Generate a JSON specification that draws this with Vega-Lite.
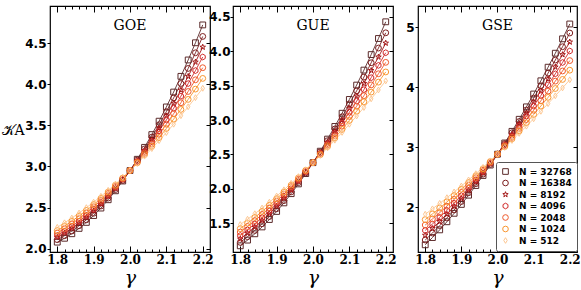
{
"$schema": "https://vega.github.io/schema/vega-lite/v6.json",
"padding": {"left": 0, "top": 4, "right": 5, "bottom": 0},
"spacing": -6,
"config": {
  "view": {"stroke": "black", "strokeWidth": 1.2},
  "axis": {"grid": false, "domain": false, "tickColor": "black", "labelColor": "black", "tickWidth": 1},
  "legend": {"orient": "none", "legendX": 446, "legendY": 156, "strokeColor": "#555", "fillColor": "white", "padding": 5, "cornerRadius": 2, "labelFont": "DejaVu Sans", "labelFontWeight": "bold", "labelFontSize": 9, "labelColor": "black", "symbolSize": 32, "symbolStrokeWidth": 1, "rowPadding": 0.5, "labelOffset": 9}
},
"datasets": {
"goe": [
{"N":32768,"g":1.8,"k":2.08},{"N":32768,"g":1.82,"k":2.127},{"N":32768,"g":1.84,"k":2.182},{"N":32768,"g":1.86,"k":2.247},{"N":32768,"g":1.88,"k":2.32},{"N":32768,"g":1.9,"k":2.403},{"N":32768,"g":1.92,"k":2.494},{"N":32768,"g":1.94,"k":2.595},{"N":32768,"g":1.96,"k":2.704},{"N":32768,"g":1.98,"k":2.823},{"N":32768,"g":2.0,"k":2.95},{"N":32768,"g":2.02,"k":3.087},{"N":32768,"g":2.04,"k":3.232},{"N":32768,"g":2.06,"k":3.387},{"N":32768,"g":2.08,"k":3.55},{"N":32768,"g":2.1,"k":3.723},{"N":32768,"g":2.12,"k":3.904},{"N":32768,"g":2.14,"k":4.095},{"N":32768,"g":2.16,"k":4.294},{"N":32768,"g":2.18,"k":4.503},{"N":32768,"g":2.2,"k":4.72},
{"N":16384,"g":1.8,"k":2.11},{"N":16384,"g":1.82,"k":2.158},{"N":16384,"g":1.84,"k":2.215},{"N":16384,"g":1.86,"k":2.279},{"N":16384,"g":1.88,"k":2.351},{"N":16384,"g":1.9,"k":2.431},{"N":16384,"g":1.92,"k":2.519},{"N":16384,"g":1.94,"k":2.615},{"N":16384,"g":1.96,"k":2.719},{"N":16384,"g":1.98,"k":2.83},{"N":16384,"g":2.0,"k":2.95},{"N":16384,"g":2.02,"k":3.077},{"N":16384,"g":2.04,"k":3.213},{"N":16384,"g":2.06,"k":3.356},{"N":16384,"g":2.08,"k":3.507},{"N":16384,"g":2.1,"k":3.666},{"N":16384,"g":2.12,"k":3.833},{"N":16384,"g":2.14,"k":4.008},{"N":16384,"g":2.16,"k":4.191},{"N":16384,"g":2.18,"k":4.381},{"N":16384,"g":2.2,"k":4.58},
{"N":8192,"g":1.8,"k":2.14},{"N":8192,"g":1.82,"k":2.19},{"N":8192,"g":1.84,"k":2.247},{"N":8192,"g":1.86,"k":2.311},{"N":8192,"g":1.88,"k":2.381},{"N":8192,"g":1.9,"k":2.459},{"N":8192,"g":1.92,"k":2.543},{"N":8192,"g":1.94,"k":2.635},{"N":8192,"g":1.96,"k":2.733},{"N":8192,"g":1.98,"k":2.838},{"N":8192,"g":2.0,"k":2.95},{"N":8192,"g":2.02,"k":3.069},{"N":8192,"g":2.04,"k":3.195},{"N":8192,"g":2.06,"k":3.328},{"N":8192,"g":2.08,"k":3.467},{"N":8192,"g":2.1,"k":3.614},{"N":8192,"g":2.12,"k":3.767},{"N":8192,"g":2.14,"k":3.928},{"N":8192,"g":2.16,"k":4.095},{"N":8192,"g":2.18,"k":4.269},{"N":8192,"g":2.2,"k":4.45},
{"N":4096,"g":1.8,"k":2.16},{"N":4096,"g":1.82,"k":2.212},{"N":4096,"g":1.84,"k":2.271},{"N":4096,"g":1.86,"k":2.335},{"N":4096,"g":1.88,"k":2.405},{"N":4096,"g":1.9,"k":2.481},{"N":4096,"g":1.92,"k":2.563},{"N":4096,"g":1.94,"k":2.651},{"N":4096,"g":1.96,"k":2.745},{"N":4096,"g":1.98,"k":2.844},{"N":4096,"g":2.0,"k":2.95},{"N":4096,"g":2.02,"k":3.061},{"N":4096,"g":2.04,"k":3.179},{"N":4096,"g":2.06,"k":3.302},{"N":4096,"g":2.08,"k":3.431},{"N":4096,"g":2.1,"k":3.566},{"N":4096,"g":2.12,"k":3.707},{"N":4096,"g":2.14,"k":3.854},{"N":4096,"g":2.16,"k":4.007},{"N":4096,"g":2.18,"k":4.165},{"N":4096,"g":2.2,"k":4.33},
{"N":2048,"g":1.8,"k":2.19},{"N":2048,"g":1.82,"k":2.244},{"N":2048,"g":1.84,"k":2.303},{"N":2048,"g":1.86,"k":2.367},{"N":2048,"g":1.88,"k":2.435},{"N":2048,"g":1.9,"k":2.509},{"N":2048,"g":1.92,"k":2.587},{"N":2048,"g":1.94,"k":2.671},{"N":2048,"g":1.96,"k":2.759},{"N":2048,"g":1.98,"k":2.852},{"N":2048,"g":2.0,"k":2.95},{"N":2048,"g":2.02,"k":3.053},{"N":2048,"g":2.04,"k":3.161},{"N":2048,"g":2.06,"k":3.274},{"N":2048,"g":2.08,"k":3.391},{"N":2048,"g":2.1,"k":3.514},{"N":2048,"g":2.12,"k":3.641},{"N":2048,"g":2.14,"k":3.774},{"N":2048,"g":2.16,"k":3.911},{"N":2048,"g":2.18,"k":4.053},{"N":2048,"g":2.2,"k":4.2},
{"N":1024,"g":1.8,"k":2.22},{"N":1024,"g":1.82,"k":2.275},{"N":1024,"g":1.84,"k":2.335},{"N":1024,"g":1.86,"k":2.398},{"N":1024,"g":1.88,"k":2.465},{"N":1024,"g":1.9,"k":2.536},{"N":1024,"g":1.92,"k":2.611},{"N":1024,"g":1.94,"k":2.69},{"N":1024,"g":1.96,"k":2.773},{"N":1024,"g":1.98,"k":2.859},{"N":1024,"g":2.0,"k":2.95},{"N":1024,"g":2.02,"k":3.044},{"N":1024,"g":2.04,"k":3.143},{"N":1024,"g":2.06,"k":3.245},{"N":1024,"g":2.08,"k":3.351},{"N":1024,"g":2.1,"k":3.461},{"N":1024,"g":2.12,"k":3.575},{"N":1024,"g":2.14,"k":3.693},{"N":1024,"g":2.16,"k":3.815},{"N":1024,"g":2.18,"k":3.94},{"N":1024,"g":2.2,"k":4.07},
{"N":512,"g":1.8,"k":2.26},{"N":512,"g":1.82,"k":2.315},{"N":512,"g":1.84,"k":2.373},{"N":512,"g":1.86,"k":2.434},{"N":512,"g":1.88,"k":2.499},{"N":512,"g":1.9,"k":2.566},{"N":512,"g":1.92,"k":2.637},{"N":512,"g":1.94,"k":2.71},{"N":512,"g":1.96,"k":2.787},{"N":512,"g":1.98,"k":2.867},{"N":512,"g":2.0,"k":2.95},{"N":512,"g":2.02,"k":3.036},{"N":512,"g":2.04,"k":3.125},{"N":512,"g":2.06,"k":3.217},{"N":512,"g":2.08,"k":3.313},{"N":512,"g":2.1,"k":3.411},{"N":512,"g":2.12,"k":3.513},{"N":512,"g":2.14,"k":3.617},{"N":512,"g":2.16,"k":3.725},{"N":512,"g":2.18,"k":3.836},{"N":512,"g":2.2,"k":3.95}
],
"gue": [
{"N":32768,"g":1.8,"k":1.17},{"N":32768,"g":1.82,"k":1.253},{"N":32768,"g":1.84,"k":1.345},{"N":32768,"g":1.86,"k":1.445},{"N":32768,"g":1.88,"k":1.553},{"N":32768,"g":1.9,"k":1.67},{"N":32768,"g":1.92,"k":1.795},{"N":32768,"g":1.94,"k":1.929},{"N":32768,"g":1.96,"k":2.071},{"N":32768,"g":1.98,"k":2.221},{"N":32768,"g":2.0,"k":2.38},{"N":32768,"g":2.02,"k":2.547},{"N":32768,"g":2.04,"k":2.723},{"N":32768,"g":2.06,"k":2.907},{"N":32768,"g":2.08,"k":3.099},{"N":32768,"g":2.1,"k":3.3},{"N":32768,"g":2.12,"k":3.509},{"N":32768,"g":2.14,"k":3.727},{"N":32768,"g":2.16,"k":3.953},{"N":32768,"g":2.18,"k":4.187},{"N":32768,"g":2.2,"k":4.43},
{"N":16384,"g":1.8,"k":1.22},{"N":16384,"g":1.82,"k":1.303},{"N":16384,"g":1.84,"k":1.394},{"N":16384,"g":1.86,"k":1.491},{"N":16384,"g":1.88,"k":1.596},{"N":16384,"g":1.9,"k":1.709},{"N":16384,"g":1.92,"k":1.828},{"N":16384,"g":1.94,"k":1.955},{"N":16384,"g":1.96,"k":2.09},{"N":16384,"g":1.98,"k":2.231},{"N":16384,"g":2.0,"k":2.38},{"N":16384,"g":2.02,"k":2.536},{"N":16384,"g":2.04,"k":2.7},{"N":16384,"g":2.06,"k":2.87},{"N":16384,"g":2.08,"k":3.048},{"N":16384,"g":2.1,"k":3.234},{"N":16384,"g":2.12,"k":3.426},{"N":16384,"g":2.14,"k":3.626},{"N":16384,"g":2.16,"k":3.834},{"N":16384,"g":2.18,"k":4.048},{"N":16384,"g":2.2,"k":4.27},
{"N":8192,"g":1.8,"k":1.27},{"N":8192,"g":1.82,"k":1.353},{"N":8192,"g":1.84,"k":1.442},{"N":8192,"g":1.86,"k":1.537},{"N":8192,"g":1.88,"k":1.638},{"N":8192,"g":1.9,"k":1.746},{"N":8192,"g":1.92,"k":1.86},{"N":8192,"g":1.94,"k":1.981},{"N":8192,"g":1.96,"k":2.108},{"N":8192,"g":1.98,"k":2.241},{"N":8192,"g":2.0,"k":2.38},{"N":8192,"g":2.02,"k":2.526},{"N":8192,"g":2.04,"k":2.678},{"N":8192,"g":2.06,"k":2.836},{"N":8192,"g":2.08,"k":3.0},{"N":8192,"g":2.1,"k":3.171},{"N":8192,"g":2.12,"k":3.348},{"N":8192,"g":2.14,"k":3.532},{"N":8192,"g":2.16,"k":3.722},{"N":8192,"g":2.18,"k":3.918},{"N":8192,"g":2.2,"k":4.12},
{"N":4096,"g":1.8,"k":1.32},{"N":4096,"g":1.82,"k":1.402},{"N":4096,"g":1.84,"k":1.489},{"N":4096,"g":1.86,"k":1.581},{"N":4096,"g":1.88,"k":1.679},{"N":4096,"g":1.9,"k":1.783},{"N":4096,"g":1.92,"k":1.891},{"N":4096,"g":1.94,"k":2.005},{"N":4096,"g":1.96,"k":2.125},{"N":4096,"g":1.98,"k":2.25},{"N":4096,"g":2.0,"k":2.38},{"N":4096,"g":2.02,"k":2.516},{"N":4096,"g":2.04,"k":2.657},{"N":4096,"g":2.06,"k":2.803},{"N":4096,"g":2.08,"k":2.955},{"N":4096,"g":2.1,"k":3.113},{"N":4096,"g":2.12,"k":3.275},{"N":4096,"g":2.14,"k":3.443},{"N":4096,"g":2.16,"k":3.617},{"N":4096,"g":2.18,"k":3.796},{"N":4096,"g":2.2,"k":3.98},
{"N":2048,"g":1.8,"k":1.37},{"N":2048,"g":1.82,"k":1.451},{"N":2048,"g":1.84,"k":1.536},{"N":2048,"g":1.86,"k":1.626},{"N":2048,"g":1.88,"k":1.72},{"N":2048,"g":1.9,"k":1.819},{"N":2048,"g":1.92,"k":1.922},{"N":2048,"g":1.94,"k":2.03},{"N":2048,"g":1.96,"k":2.142},{"N":2048,"g":1.98,"k":2.259},{"N":2048,"g":2.0,"k":2.38},{"N":2048,"g":2.02,"k":2.506},{"N":2048,"g":2.04,"k":2.636},{"N":2048,"g":2.06,"k":2.771},{"N":2048,"g":2.08,"k":2.91},{"N":2048,"g":2.1,"k":3.054},{"N":2048,"g":2.12,"k":3.202},{"N":2048,"g":2.14,"k":3.355},{"N":2048,"g":2.16,"k":3.512},{"N":2048,"g":2.18,"k":3.674},{"N":2048,"g":2.2,"k":3.84},
{"N":1024,"g":1.8,"k":1.42},{"N":1024,"g":1.82,"k":1.5},{"N":1024,"g":1.84,"k":1.583},{"N":1024,"g":1.86,"k":1.67},{"N":1024,"g":1.88,"k":1.761},{"N":1024,"g":1.9,"k":1.855},{"N":1024,"g":1.92,"k":1.953},{"N":1024,"g":1.94,"k":2.054},{"N":1024,"g":1.96,"k":2.159},{"N":1024,"g":1.98,"k":2.268},{"N":1024,"g":2.0,"k":2.38},{"N":1024,"g":2.02,"k":2.496},{"N":1024,"g":2.04,"k":2.615},{"N":1024,"g":2.06,"k":2.738},{"N":1024,"g":2.08,"k":2.865},{"N":1024,"g":2.1,"k":2.995},{"N":1024,"g":2.12,"k":3.129},{"N":1024,"g":2.14,"k":3.266},{"N":1024,"g":2.16,"k":3.407},{"N":1024,"g":2.18,"k":3.552},{"N":1024,"g":2.2,"k":3.7},
{"N":512,"g":1.8,"k":1.48},{"N":512,"g":1.82,"k":1.557},{"N":512,"g":1.84,"k":1.637},{"N":512,"g":1.86,"k":1.72},{"N":512,"g":1.88,"k":1.805},{"N":512,"g":1.9,"k":1.894},{"N":512,"g":1.92,"k":1.985},{"N":512,"g":1.94,"k":2.08},{"N":512,"g":1.96,"k":2.177},{"N":512,"g":1.98,"k":2.277},{"N":512,"g":2.0,"k":2.38},{"N":512,"g":2.02,"k":2.486},{"N":512,"g":2.04,"k":2.595},{"N":512,"g":2.06,"k":2.707},{"N":512,"g":2.08,"k":2.821},{"N":512,"g":2.1,"k":2.939},{"N":512,"g":2.12,"k":3.059},{"N":512,"g":2.14,"k":3.183},{"N":512,"g":2.16,"k":3.309},{"N":512,"g":2.18,"k":3.438},{"N":512,"g":2.2,"k":3.57}
],
"gse": [
{"N":32768,"g":1.8,"k":1.37},{"N":32768,"g":1.82,"k":1.491},{"N":32768,"g":1.84,"k":1.619},{"N":32768,"g":1.86,"k":1.754},{"N":32768,"g":1.88,"k":1.895},{"N":32768,"g":1.9,"k":2.043},{"N":32768,"g":1.92,"k":2.197},{"N":32768,"g":1.94,"k":2.358},{"N":32768,"g":1.96,"k":2.525},{"N":32768,"g":1.98,"k":2.699},{"N":32768,"g":2.0,"k":2.88},{"N":32768,"g":2.02,"k":3.067},{"N":32768,"g":2.04,"k":3.261},{"N":32768,"g":2.06,"k":3.462},{"N":32768,"g":2.08,"k":3.669},{"N":32768,"g":2.1,"k":3.883},{"N":32768,"g":2.12,"k":4.103},{"N":32768,"g":2.14,"k":4.33},{"N":32768,"g":2.16,"k":4.563},{"N":32768,"g":2.18,"k":4.803},{"N":32768,"g":2.2,"k":5.05},
{"N":16384,"g":1.8,"k":1.45},{"N":16384,"g":1.82,"k":1.566},{"N":16384,"g":1.84,"k":1.689},{"N":16384,"g":1.86,"k":1.817},{"N":16384,"g":1.88,"k":1.951},{"N":16384,"g":1.9,"k":2.091},{"N":16384,"g":1.92,"k":2.237},{"N":16384,"g":1.94,"k":2.389},{"N":16384,"g":1.96,"k":2.547},{"N":16384,"g":1.98,"k":2.71},{"N":16384,"g":2.0,"k":2.88},{"N":16384,"g":2.02,"k":3.055},{"N":16384,"g":2.04,"k":3.237},{"N":16384,"g":2.06,"k":3.424},{"N":16384,"g":2.08,"k":3.617},{"N":16384,"g":2.1,"k":3.816},{"N":16384,"g":2.12,"k":4.021},{"N":16384,"g":2.14,"k":4.232},{"N":16384,"g":2.16,"k":4.449},{"N":16384,"g":2.18,"k":4.671},{"N":16384,"g":2.2,"k":4.9},
{"N":8192,"g":1.8,"k":1.53},{"N":8192,"g":1.82,"k":1.642},{"N":8192,"g":1.84,"k":1.758},{"N":8192,"g":1.86,"k":1.88},{"N":8192,"g":1.88,"k":2.008},{"N":8192,"g":1.9,"k":2.14},{"N":8192,"g":1.92,"k":2.278},{"N":8192,"g":1.94,"k":2.42},{"N":8192,"g":1.96,"k":2.568},{"N":8192,"g":1.98,"k":2.722},{"N":8192,"g":2.0,"k":2.88},{"N":8192,"g":2.02,"k":3.044},{"N":8192,"g":2.04,"k":3.212},{"N":8192,"g":2.06,"k":3.386},{"N":8192,"g":2.08,"k":3.566},{"N":8192,"g":2.1,"k":3.75},{"N":8192,"g":2.12,"k":3.94},{"N":8192,"g":2.14,"k":4.134},{"N":8192,"g":2.16,"k":4.334},{"N":8192,"g":2.18,"k":4.54},{"N":8192,"g":2.2,"k":4.75},
{"N":4096,"g":1.8,"k":1.61},{"N":4096,"g":1.82,"k":1.717},{"N":4096,"g":1.84,"k":1.828},{"N":4096,"g":1.86,"k":1.944},{"N":4096,"g":1.88,"k":2.064},{"N":4096,"g":1.9,"k":2.189},{"N":4096,"g":1.92,"k":2.318},{"N":4096,"g":1.94,"k":2.452},{"N":4096,"g":1.96,"k":2.59},{"N":4096,"g":1.98,"k":2.733},{"N":4096,"g":2.0,"k":2.88},{"N":4096,"g":2.02,"k":3.032},{"N":4096,"g":2.04,"k":3.188},{"N":4096,"g":2.06,"k":3.349},{"N":4096,"g":2.08,"k":3.514},{"N":4096,"g":2.1,"k":3.684},{"N":4096,"g":2.12,"k":3.858},{"N":4096,"g":2.14,"k":4.037},{"N":4096,"g":2.16,"k":4.22},{"N":4096,"g":2.18,"k":4.408},{"N":4096,"g":2.2,"k":4.6},
{"N":2048,"g":1.8,"k":1.7},{"N":2048,"g":1.82,"k":1.801},{"N":2048,"g":1.84,"k":1.906},{"N":2048,"g":1.86,"k":2.014},{"N":2048,"g":1.88,"k":2.126},{"N":2048,"g":1.9,"k":2.243},{"N":2048,"g":1.92,"k":2.362},{"N":2048,"g":1.94,"k":2.486},{"N":2048,"g":1.96,"k":2.614},{"N":2048,"g":1.98,"k":2.745},{"N":2048,"g":2.0,"k":2.88},{"N":2048,"g":2.02,"k":3.019},{"N":2048,"g":2.04,"k":3.162},{"N":2048,"g":2.06,"k":3.308},{"N":2048,"g":2.08,"k":3.458},{"N":2048,"g":2.1,"k":3.613},{"N":2048,"g":2.12,"k":3.77},{"N":2048,"g":2.14,"k":3.932},{"N":2048,"g":2.16,"k":4.098},{"N":2048,"g":2.18,"k":4.267},{"N":2048,"g":2.2,"k":4.44},
{"N":1024,"g":1.8,"k":1.79},{"N":1024,"g":1.82,"k":1.885},{"N":1024,"g":1.84,"k":1.983},{"N":1024,"g":1.86,"k":2.084},{"N":1024,"g":1.88,"k":2.189},{"N":1024,"g":1.9,"k":2.296},{"N":1024,"g":1.92,"k":2.407},{"N":1024,"g":1.94,"k":2.52},{"N":1024,"g":1.96,"k":2.637},{"N":1024,"g":1.98,"k":2.757},{"N":1024,"g":2.0,"k":2.88},{"N":1024,"g":2.02,"k":3.006},{"N":1024,"g":2.04,"k":3.135},{"N":1024,"g":2.06,"k":3.267},{"N":1024,"g":2.08,"k":3.403},{"N":1024,"g":2.1,"k":3.541},{"N":1024,"g":2.12,"k":3.683},{"N":1024,"g":2.14,"k":3.827},{"N":1024,"g":2.16,"k":3.975},{"N":1024,"g":2.18,"k":4.126},{"N":1024,"g":2.2,"k":4.28},
{"N":512,"g":1.8,"k":1.88},{"N":512,"g":1.82,"k":1.969},{"N":512,"g":1.84,"k":2.061},{"N":512,"g":1.86,"k":2.155},{"N":512,"g":1.88,"k":2.251},{"N":512,"g":1.9,"k":2.35},{"N":512,"g":1.92,"k":2.451},{"N":512,"g":1.94,"k":2.555},{"N":512,"g":1.96,"k":2.661},{"N":512,"g":1.98,"k":2.769},{"N":512,"g":2.0,"k":2.88},{"N":512,"g":2.02,"k":2.993},{"N":512,"g":2.04,"k":3.109},{"N":512,"g":2.06,"k":3.227},{"N":512,"g":2.08,"k":3.347},{"N":512,"g":2.1,"k":3.47},{"N":512,"g":2.12,"k":3.595},{"N":512,"g":2.14,"k":3.723},{"N":512,"g":2.16,"k":3.853},{"N":512,"g":2.18,"k":3.985},{"N":512,"g":2.2,"k":4.12}
]
},
"hconcat": [
{
 "width": 160, "height": 246,
 "layer": [
  {"data": {"name": "goe"}, "mark": {"type": "line", "strokeWidth": 0.9},
   "encoding": {
    "x": {"field": "g", "type": "quantitative", "scale": {"domain": [1.78, 2.22], "nice": false}, "axis": null},
    "y": {"field": "k", "type": "quantitative", "scale": {"domain": [1.96, 4.95], "nice": false, "zero": false}, "axis": null},
    "color": {"field": "N", "type": "ordinal", "scale": {"domain": [32768,16384,8192,4096,2048,1024,512], "range": ["#5b2a2a","#7d1f1f","#a31414","#d12a2a","#ef5a2c","#f99630","#fdc792"]}, "title": null, "legend": {"labelExpr": "'N = ' + datum.label"}}}},
  {"data": {"name": "goe"}, "mark": {"type": "point", "filled": false, "size": 34, "strokeWidth": 1, "opacity": 1},
   "encoding": {
    "x": {"field": "g", "type": "quantitative", "scale": {"domain": [1.78, 2.22], "nice": false},
      "axis": {"orient": "bottom", "values": [1.8,1.82,1.84,1.86,1.88,1.9,1.92,1.94,1.96,1.98,2.0,2.02,2.04,2.06,2.08,2.1,2.12,2.14,2.16,2.18,2.2],
       "labelExpr": "abs(datum.value*10-round(datum.value*10))<0.01 ? format(datum.value,'.1f') : ''",
       "tickSize": {"condition": {"test": "abs(datum.value*10-round(datum.value*10))<0.01", "value": -6}, "value": -3},
       "labelPadding": 8, "labelFont": "DejaVu Serif", "labelFontWeight": "bold", "labelFontSize": 12, "labelFlush": false,
       "title": "γ", "titleFont": "DejaVu Serif", "titleFontStyle": "italic", "titleFontWeight": "normal", "titleFontSize": 19, "titlePadding": 3}},
    "y": {"field": "k", "type": "quantitative", "scale": {"domain": [1.96, 4.95], "nice": false, "zero": false},
      "axis": {"orient": "left", "values": [2,2.5,3,3.5,4,4.5], "format": ".1f", "tickSize": 3, "labelPadding": 1,
       "labelFont": "DejaVu Sans", "labelFontWeight": "bold", "labelFontSize": 12,
       "title": "𝒦A", "titleAngle": 0, "titleAlign": "left", "titleBaseline": "middle", "titleX": -49, "titleY": 124,
       "titleFont": "DejaVu Serif", "titleFontWeight": "normal", "titleFontSize": 14, "minExtent": 48}},
    "color": {"field": "N", "type": "ordinal", "scale": {"domain": [32768,16384,8192,4096,2048,1024,512], "range": ["#5b2a2a","#7d1f1f","#a31414","#d12a2a","#ef5a2c","#f99630","#fdc792"]}, "title": null, "legend": {"labelExpr": "'N = ' + datum.label"}},
    "shape": {"field": "N", "type": "ordinal", "scale": {"domain": [32768,16384,8192,4096,2048,1024,512], "range": ["square","circle","M0,-1L0.24,-0.33L0.95,-0.31L0.38,0.12L0.59,0.81L0,0.4L-0.59,0.81L-0.38,0.12L-0.95,-0.31L-0.24,-0.33Z","M0,-1L0.87,-0.5L0.87,0.5L0,1L-0.87,0.5L-0.87,-0.5Z","circle","circle","M0,-1L0.6,0L0,1L-0.6,0Z"]}, "title": null, "legend": {"labelExpr": "'N = ' + datum.label"}}}},
  {"data": {"values": [{"t": "GOE"}]}, "mark": {"type": "text", "font": "DejaVu Serif", "fontSize": 14, "baseline": "middle", "align": "center", "color": "black"},
   "encoding": {
    "x": {"datum": 2.0, "type": "quantitative", "axis": {"orient": "top", "values": [1.8,1.82,1.84,1.86,1.88,1.9,1.92,1.94,1.96,1.98,2.0,2.02,2.04,2.06,2.08,2.1,2.12,2.14,2.16,2.18,2.2], "labels": false, "title": null,
       "tickSize": {"condition": {"test": "abs(datum.value*10-round(datum.value*10))<0.01", "value": -6}, "value": -3}}},
    "y": {"datum": 4.71, "type": "quantitative", "axis": {"orient": "right", "values": [2,2.5,3,3.5,4,4.5], "labels": false, "title": null, "tickSize": -4, "minExtent": 0, "maxExtent": 0}},
    "text": {"field": "t"}}}
 ],
 "resolve": {"axis": {"x": "independent", "y": "independent"}}
},
{
 "width": 160, "height": 246,
 "layer": [
  {"data": {"name": "gue"}, "mark": {"type": "line", "strokeWidth": 0.9},
   "encoding": {
    "x": {"field": "g", "type": "quantitative", "scale": {"domain": [1.78, 2.22], "nice": false}, "axis": null},
    "y": {"field": "k", "type": "quantitative", "scale": {"domain": [1.08, 4.66], "nice": false, "zero": false}, "axis": null},
    "color": {"field": "N", "type": "ordinal", "scale": {"domain": [32768,16384,8192,4096,2048,1024,512], "range": ["#5b2a2a","#7d1f1f","#a31414","#d12a2a","#ef5a2c","#f99630","#fdc792"]}, "title": null, "legend": {"labelExpr": "'N = ' + datum.label"}}}},
  {"data": {"name": "gue"}, "mark": {"type": "point", "filled": false, "size": 34, "strokeWidth": 1, "opacity": 1},
   "encoding": {
    "x": {"field": "g", "type": "quantitative", "scale": {"domain": [1.78, 2.22], "nice": false},
      "axis": {"orient": "bottom", "values": [1.8,1.82,1.84,1.86,1.88,1.9,1.92,1.94,1.96,1.98,2.0,2.02,2.04,2.06,2.08,2.1,2.12,2.14,2.16,2.18,2.2],
       "labelExpr": "abs(datum.value*10-round(datum.value*10))<0.01 ? format(datum.value,'.1f') : ''",
       "tickSize": {"condition": {"test": "abs(datum.value*10-round(datum.value*10))<0.01", "value": -6}, "value": -3},
       "labelPadding": 8, "labelFont": "DejaVu Serif", "labelFontWeight": "bold", "labelFontSize": 12, "labelFlush": false,
       "title": "γ", "titleFont": "DejaVu Serif", "titleFontStyle": "italic", "titleFontWeight": "normal", "titleFontSize": 19, "titlePadding": 3}},
    "y": {"field": "k", "type": "quantitative", "scale": {"domain": [1.08, 4.66], "nice": false, "zero": false},
      "axis": {"orient": "left", "values": [1.5,2,2.5,3,3.5,4,4.5], "format": ".1f", "tickSize": 3, "labelPadding": 0,
       "labelFont": "DejaVu Sans", "labelFontWeight": "bold", "labelFontSize": 12, "title": null, "minExtent": 24}},
    "color": {"field": "N", "type": "ordinal", "scale": {"domain": [32768,16384,8192,4096,2048,1024,512], "range": ["#5b2a2a","#7d1f1f","#a31414","#d12a2a","#ef5a2c","#f99630","#fdc792"]}, "title": null, "legend": {"labelExpr": "'N = ' + datum.label"}},
    "shape": {"field": "N", "type": "ordinal", "scale": {"domain": [32768,16384,8192,4096,2048,1024,512], "range": ["square","circle","M0,-1L0.24,-0.33L0.95,-0.31L0.38,0.12L0.59,0.81L0,0.4L-0.59,0.81L-0.38,0.12L-0.95,-0.31L-0.24,-0.33Z","M0,-1L0.87,-0.5L0.87,0.5L0,1L-0.87,0.5L-0.87,-0.5Z","circle","circle","M0,-1L0.6,0L0,1L-0.6,0Z"]}, "title": null, "legend": {"labelExpr": "'N = ' + datum.label"}}}},
  {"data": {"values": [{"t": "GUE"}]}, "mark": {"type": "text", "font": "DejaVu Serif", "fontSize": 14, "baseline": "middle", "align": "center", "color": "black"},
   "encoding": {
    "x": {"datum": 2.0, "type": "quantitative", "axis": {"orient": "top", "values": [1.8,1.82,1.84,1.86,1.88,1.9,1.92,1.94,1.96,1.98,2.0,2.02,2.04,2.06,2.08,2.1,2.12,2.14,2.16,2.18,2.2], "labels": false, "title": null,
       "tickSize": {"condition": {"test": "abs(datum.value*10-round(datum.value*10))<0.01", "value": -6}, "value": -3}}},
    "y": {"datum": 4.37, "type": "quantitative", "axis": {"orient": "right", "values": [1.5,2,2.5,3,3.5,4,4.5], "labels": false, "title": null, "tickSize": -4, "minExtent": 0, "maxExtent": 0}},
    "text": {"field": "t"}}}
 ],
 "resolve": {"axis": {"x": "independent", "y": "independent"}}
},
{
 "width": 159, "height": 246,
 "layer": [
  {"data": {"name": "gse"}, "mark": {"type": "line", "strokeWidth": 0.9},
   "encoding": {
    "x": {"field": "g", "type": "quantitative", "scale": {"domain": [1.78, 2.22], "nice": false}, "axis": null},
    "y": {"field": "k", "type": "quantitative", "scale": {"domain": [1.25, 5.35], "nice": false, "zero": false}, "axis": null},
    "color": {"field": "N", "type": "ordinal", "scale": {"domain": [32768,16384,8192,4096,2048,1024,512], "range": ["#5b2a2a","#7d1f1f","#a31414","#d12a2a","#ef5a2c","#f99630","#fdc792"]}, "title": null, "legend": {"labelExpr": "'N = ' + datum.label"}}}},
  {"data": {"name": "gse"}, "mark": {"type": "point", "filled": false, "size": 34, "strokeWidth": 1, "opacity": 1},
   "encoding": {
    "x": {"field": "g", "type": "quantitative", "scale": {"domain": [1.78, 2.22], "nice": false},
      "axis": {"orient": "bottom", "values": [1.8,1.82,1.84,1.86,1.88,1.9,1.92,1.94,1.96,1.98,2.0,2.02,2.04,2.06,2.08,2.1,2.12,2.14,2.16,2.18,2.2],
       "labelExpr": "abs(datum.value*10-round(datum.value*10))<0.01 ? format(datum.value,'.1f') : ''",
       "tickSize": {"condition": {"test": "abs(datum.value*10-round(datum.value*10))<0.01", "value": -6}, "value": -3},
       "labelPadding": 8, "labelFont": "DejaVu Serif", "labelFontWeight": "bold", "labelFontSize": 12, "labelFlush": false,
       "title": "γ", "titleFont": "DejaVu Serif", "titleFontStyle": "italic", "titleFontWeight": "normal", "titleFontSize": 19, "titlePadding": 3}},
    "y": {"field": "k", "type": "quantitative", "scale": {"domain": [1.25, 5.35], "nice": false, "zero": false},
      "axis": {"orient": "left", "values": [2,3,4,5], "format": "d", "tickSize": 3, "labelPadding": 1,
       "labelFont": "DejaVu Sans", "labelFontWeight": "bold", "labelFontSize": 12, "title": null, "minExtent": 26}},
    "color": {"field": "N", "type": "ordinal", "scale": {"domain": [32768,16384,8192,4096,2048,1024,512], "range": ["#5b2a2a","#7d1f1f","#a31414","#d12a2a","#ef5a2c","#f99630","#fdc792"]}, "title": null, "legend": {"labelExpr": "'N = ' + datum.label"}},
    "shape": {"field": "N", "type": "ordinal", "scale": {"domain": [32768,16384,8192,4096,2048,1024,512], "range": ["square","circle","M0,-1L0.24,-0.33L0.95,-0.31L0.38,0.12L0.59,0.81L0,0.4L-0.59,0.81L-0.38,0.12L-0.95,-0.31L-0.24,-0.33Z","M0,-1L0.87,-0.5L0.87,0.5L0,1L-0.87,0.5L-0.87,-0.5Z","circle","circle","M0,-1L0.6,0L0,1L-0.6,0Z"]}, "title": null, "legend": {"labelExpr": "'N = ' + datum.label"}}}},
  {"data": {"values": [{"t": "GSE"}]}, "mark": {"type": "text", "font": "DejaVu Serif", "fontSize": 14, "baseline": "middle", "align": "center", "color": "black"},
   "encoding": {
    "x": {"datum": 2.0, "type": "quantitative", "axis": {"orient": "top", "values": [1.8,1.82,1.84,1.86,1.88,1.9,1.92,1.94,1.96,1.98,2.0,2.02,2.04,2.06,2.08,2.1,2.12,2.14,2.16,2.18,2.2], "labels": false, "title": null,
       "tickSize": {"condition": {"test": "abs(datum.value*10-round(datum.value*10))<0.01", "value": -6}, "value": -3}}},
    "y": {"datum": 5.02, "type": "quantitative", "axis": {"orient": "right", "values": [2,3,4,5], "labels": false, "title": null, "tickSize": -4, "minExtent": 0, "maxExtent": 0}},
    "text": {"field": "t"}}}
 ],
 "resolve": {"axis": {"x": "independent", "y": "independent"}}
}
]
}
